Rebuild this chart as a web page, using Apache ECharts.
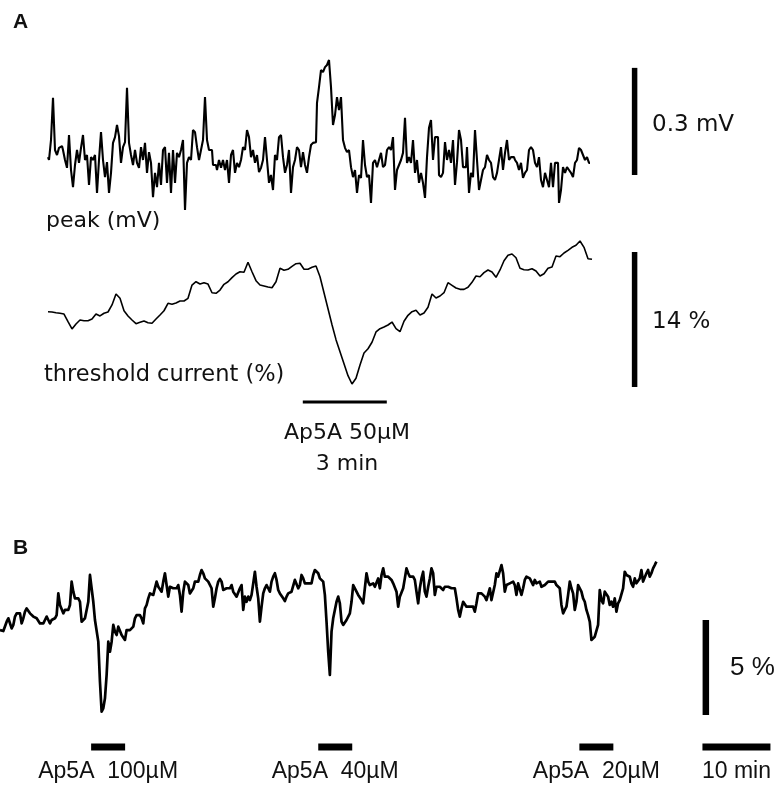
<!DOCTYPE html>
<html>
<head>
<meta charset="utf-8">
<script src="https://cdn.jsdelivr.net/npm/echarts@6/dist/echarts.min.js"></script>
<style>
html, body { margin: 0; padding: 0; background: #fff; }
#chart { width: 783px; height: 787px; }
</style>
</head>
<body>
<div id="chart"></div>
<script>
// A: peak (mV), one sample every 1/14 min
let peak_mv = [
    0.050,0.042,0.098,0.216,0.070,0.056,0.076,0.081,0.070,0.042,
    0.020,0.112,0.014,-0.034,0.028,0.070,0.034,0.076,0.112,0.042,
    0.056,-0.028,0.050,0.042,0.056,-0.050,0.042,0.120,0.042,-0.006,
    0.036,-0.050,0.006,0.090,0.106,0.140,0.109,0.034,0.078,0.092,
    0.244,0.090,0.056,0.028,0.070,0.034,0.020,0.078,0.042,0.090,
    0.006,0.064,0.034,-0.062,0.006,-0.034,0.034,-0.028,0.070,0.078,
    -0.022,0.062,-0.050,0.070,-0.022,0.062,0.050,0.070,0.098,-0.098,
    0.034,0.050,0.042,0.126,0.120,0.078,0.042,0.070,0.098,0.218,
    0.098,0.070,0.070,0.028,0.028,0.014,0.042,0.020,0.042,0.014,
    0.042,-0.022,0.056,0.070,0.006,0.034,0.022,0.042,0.078,0.070,
    0.126,0.106,0.050,0.070,0.034,0.056,0.008,0.020,0.042,0.106,
    0.042,-0.022,0,-0.042,0.056,0.042,0.106,0.112,0.050,0.006,
    0.028,0.070,-0.050,0.022,0.042,0.078,0.070,0.022,0.064,0.028,
    0.006,0.050,0.084,0.090,0.092,0.202,0.246,0.294,0.288,0.302,
    0.308,0.322,0.246,0.140,0.168,0.218,0.182,0.218,0.098,0.076,
    0.064,0.070,0.022,-0.006,0.014,-0.050,0,-0.008,0.098,0.028,
    -0.006,0,-0.078,0.034,0.042,0.022,0.042,0.062,0.022,0.028,
    0.070,0.078,0.070,0.106,-0.042,0.014,0.028,
    0.042,0.062,0.160,0.034,0.050,0.034,0.098,0.006,0.042,-0.022,
    0.006,-0.022,-0.064,0.050,0.132,0.154,0.042,0.106,0.106,0,
    -0.006,0.006,0.092,0.042,0.070,0.034,0.098,-0.028,0.036,0.126,
    0.098,0.022,0.022,0.078,-0.050,0.006,-0.006,0.126,0.042,-0.042,
    -0.014,0.014,0.022,0.056,0.042,0.034,-0.006,-0.014,0.006,0.042,
    0.078,0.014,0.062,0.098,0.042,0.050,0.050,0.042,0.034,0.014,
    0.034,-0.008,0.006,0.014,0.070,0.078,0.070,0.034,0.022,0.050,
    -0.014,-0.034,0.006,-0.014,-0.034,0.034,-0.034,0.034,0.034,-0.078,
    -0.042,0.022,0.006,0.022,0.014,0.006,-0.006,0.034,0.042,0.076,
    0.070,0.056,0.042,0.050,0.034
];
let peak_dt = 1 / 14;

// A: threshold current (%), one sample every 1/7 min
let threshold_pct = [
    7.81,7.78,7.71,7.65,7.57,6.77,6.02,6.54,6.95,6.88,
    6.88,7.05,7.57,7.37,7.65,7.78,8.51,9.65,9.20,7.91,
    7.37,6.95,6.57,6.71,6.85,6.67,6.61,7.05,7.47,7.91,
    8.68,8.58,8.71,8.92,8.92,9.20,10.58,10.92,10.68,10.82,
    10.68,9.78,9.72,10.06,10.65,10.92,11.34,11.72,11.96,11.90,
    12.94,11.96,11.03,10.58,10.48,10.37,10.30,10.92,12.31,12.11,
    12.21,12.52,12.79,12.83,12.21,12.21,12.42,12.55,11.44,9.78,
    8.12,6.46,4.91,3.66,2.42,1.17,0.31,0.90,2.28,3.53,
    3.97,4.64,5.71,6.05,6.22,6.43,6.74,6.05,5.74,6.82,
    7.44,7.81,7.96,7.47,7.68,8.27,9.65,9.23,9.44,9.78,
    10.82,10.55,10.27,10.13,10.13,10.34,10.86,11.51,11.44,11.86,
    12.14,11.93,11.38,12.14,13.10,13.66,13.80,13.41,12.31,12.17,
    12.14,12.27,12.03,11.51,11.75,12.31,12.45,13.59,13.52,13.90,
    14.18,14.49,14.70,15.15,14.49,13.31,13.25
];
let threshold_dt = 1 / 7;

// B: threshold current (%), one sample every 0.245 min
let trace_b_pct = [
    4.47,4.39,4.42,4.47,4.91,5.09,5.18,4.56,4.74,5.18,
    5.35,5.30,5.35,4.82,5.09,5.44,5.61,5.53,5.35,5.26,
    5.18,5.18,5.09,5.00,4.82,4.82,4.82,5.00,5.18,5.00,
    4.82,5.00,5.00,5.09,5.26,6.40,5.79,5.70,5.35,5.53,
    5.44,5.53,5.79,7.02,6.49,6.14,6.14,6.14,5.96,4.91,
    5.00,5.09,5.18,5.96,7.37,7.37,5.96,5.00,4.91,3.86,
    1.75,0.18,0.35,0.88,2.11,3.86,3.33,3.86,4.74,4.39,
    4.21,4.65,4.74,4.21,4.30,3.95,4.47,4.56,4.47,4.56,
    4.65,5.09,5.26,5.35,5.26,5.09,4.82,5.61,5.79,6.14,
    6.40,6.49,6.32,6.40,7.02,6.75,6.84,6.49,7.02,7.46,
    6.84,6.23,6.75,6.84,6.67,6.75,6.67,6.84,6.32,5.44,
    6.49,7.02,6.93,6.84,6.40,6.40,6.67,7.02,7.11,7.02,
    7.37,7.63,7.46,7.19,7.19,7.02,7.11,6.67,5.70,6.14,
    6.67,7.02,7.16,7.02,6.58,6.58,6.67,6.58,6.67,
    6.84,6.49,6.49,6.23,6.23,6.67,6.84,5.53,6.23,5.96,
    6.23,6.05,6.32,6.93,7.54,6.75,6.14,4.91,5.70,6.40,
    6.67,6.84,6.67,6.49,7.02,7.28,7.46,7.11,6.58,6.40,
    6.32,6.14,6.00,6.23,6.40,6.40,6.49,6.49,7.11,7.02,
    6.67,6.84,7.37,7.19,6.93,6.93,6.93,6.93,6.93,7.37,
    7.63,7.63,7.46,7.19,7.11,7.02,6.32,4.91,3.33,2.11,
    4.39,5.09,5.53,5.96,6.23,5.88,4.91,4.74,4.82,5.00,
    5.09,5.35,5.96,6.84,6.67,6.58,6.32,6.23,6.05,5.88,
    6.67,7.46,7.02,6.84,6.93,6.93,6.75,6.84,7.19,6.67,
    7.37,7.72,7.28,7.19,7.28,7.19,7.11,6.93,6.84,6.49,
    5.70,6.23,6.32,6.67,7.19,7.72,7.46,7.28,7.19,7.28,
    7.11,6.49,5.88,6.67,7.19,7.54,6.49,6.23,6.75,7.19,
    7.72,7.46,6.32,6.75,6.67,6.75,6.67,6.58,6.75,6.67,
    6.75,
    6.75,6.67,6.75,6.67,6.14,5.53,5.18,5.61,5.96,5.88,
    5.70,5.70,5.70,5.70,5.70,5.44,5.88,6.40,6.32,6.40,
    6.40,6.23,6.05,6.14,6.67,6.05,6.14,6.84,7.46,7.28,
    7.37,7.89,7.46,6.49,6.84,6.84,6.93,7.02,7.02,6.84,
    6.32,6.93,7.02,6.32,6.67,7.11,7.28,7.28,7.19,7.11,
    6.84,7.11,6.93,7.02,7.02,6.75,6.84,6.84,6.93,7.02,
    7.02,7.02,6.93,7.02,6.84,6.93,6.67,5.79,5.35,5.53,
    5.70,6.32,7.02,6.67,6.40,5.53,5.96,6.84,6.75,6.49,
    6.14,5.96,5.53,5.26,4.91,3.95,3.95,4.12,4.21,4.74,
    6.58,6.05,5.88,6.49,6.58,6.23,5.79,5.96,5.70,6.14,
    5.44,5.88,6.05,6.14,6.67,7.54,7.37,7.37,7.28,6.93,
    6.75,7.19,6.93,6.93,7.19,7.63,7.02,6.93,7.46,7.63,
    7.28,7.46,7.72,7.89,8.07
];
let trace_b_dt = 0.245;

// drug applications (min) and labels
let stim_a_min = [9.1, 12.1];
let stim_a_text = ['Ap5A 50\u00b5M', '3 min'];
let stim_b_min = [[13.4, 18.4], [46.8, 51.8], [85.2, 90.2]];
let stim_b_text = ['Ap5A  100\u00b5M', 'Ap5A  40\u00b5M', 'Ap5A  20\u00b5M'];

// scale bars
let scale_a_values = [0.3, 14];      // mV, %
let scale_a_text = ['0.3 mV', '14 %'];
let scale_b_values = [5, 10];        // %, min
let scale_b_text = ['5 %', '10 min'];

// ---- layout (px) ----
let a_px_per_min = 28, b_px_per_min = 6.8;
let peak_px_per_mv = 357.1, thr_px_per_pct = 9.64, b_px_per_pct = 19;
let peak_zero_y = 175, thr_zero_y = 387, b_zero_y = 715;
let scale_a_t = 20.95, scale_b_t = 103.8;
let stim_a_level = -1.56, stim_b_level = -1.68;

let chart = echarts.init(document.getElementById('chart'), null, { renderer: 'canvas' });

function to_pairs(arr, dt) {
    return arr.map(function (v, i) { return [i * dt, v]; });
}

function bar_series(grid_index, data, width) {
    return {
        type: 'line',
        xAxisIndex: grid_index,
        yAxisIndex: grid_index,
        data: data,
        symbol: 'none',
        silent: true,
        clip: false,
        lineStyle: { color: '#000', width: width, cap: 'butt' },
        z: 3
    };
}

function label(text, x, y, size, align, weight, family) {
    return {
        type: 'text',
        x: x,
        y: y,
        silent: true,
        style: {
            text: text,
            fill: '#111',
            font: (weight || 'normal') + ' ' + size + 'px ' + (family || '"DejaVu Sans"'),
            align: align,
            textAlign: align,
            verticalAlign: 'middle',
            textVerticalAlign: 'middle'
        }
    };
}

let series_list = [
    {
        type: 'line', xAxisIndex: 0, yAxisIndex: 0,
        data: to_pairs(peak_mv, peak_dt),
        step: 'middle', symbol: 'none', silent: true,
        lineStyle: { color: '#000', width: 2.1 }
    },
    {
        type: 'line', xAxisIndex: 1, yAxisIndex: 1,
        data: to_pairs(threshold_pct, threshold_dt),
        symbol: 'none', silent: true,
        lineStyle: { color: '#000', width: 1.6 }
    },
    {
        type: 'line', xAxisIndex: 2, yAxisIndex: 2,
        data: to_pairs(trace_b_pct, trace_b_dt),
        symbol: 'none', silent: true,
        lineStyle: { color: '#000', width: 2.7, join: 'round' }
    },
    bar_series(0, [[scale_a_t, 0], [scale_a_t, scale_a_values[0]]], 5.5),
    bar_series(1, [[scale_a_t, 0], [scale_a_t, scale_a_values[1]]], 5.5),
    bar_series(1, [[stim_a_min[0], stim_a_level], [stim_a_min[1], stim_a_level]], 3),
    bar_series(2, [[scale_b_t, 0], [scale_b_t, scale_b_values[0]]], 6.5),
    bar_series(2, [[scale_b_t - 0.5, stim_b_level], [scale_b_t - 0.5 + scale_b_values[1], stim_b_level]], 7)
];
stim_b_min.forEach(function (s) {
    series_list.push(bar_series(2, [[s[0], stim_b_level], [s[1], stim_b_level]], 7));
});

let graphic_list = [
    label('A', 13, 22, 21, 'left', 'bold', '"Liberation Sans", Arial'),
    label('B', 13, 548, 21, 'left', 'bold', '"Liberation Sans", Arial'),
    label('peak (mV)', 46, 221, 22, 'left'),
    label('threshold current (%)', 44, 375, 22.5, 'left'),
    label(scale_a_text[0], 652, 125, 23, 'left'),
    label(scale_a_text[1], 652, 322, 23, 'left'),
    label(stim_a_text[0], 347, 433, 22, 'center'),
    label(stim_a_text[1], 347, 464, 22, 'center'),
    label(scale_b_text[0], 730, 668, 26, 'left', 'normal', '"Liberation Sans", Arial'),
    label(scale_b_text[1], (scale_b_t - 0.5 + scale_b_values[1] / 2) * b_px_per_min, 772, 23, 'center', 'normal', '"Liberation Sans", Arial')
];
stim_b_min.forEach(function (s, i) {
    graphic_list.push(label(stim_b_text[i], (s[0] + s[1]) / 2 * b_px_per_min, 772, 23, 'center', 'normal', '"Liberation Sans", Arial'));
});

let option = {
    animation: false,
    backgroundColor: '#fff',
    grid: [
        { left: 48, top: peak_zero_y - 0.45 * peak_px_per_mv, width: 22 * a_px_per_min, height: 0.6 * peak_px_per_mv },
        { left: 48, top: thr_zero_y - 17 * thr_px_per_pct, width: 22 * a_px_per_min, height: 20 * thr_px_per_pct },
        { left: 0, top: b_zero_y - 9 * b_px_per_pct, width: 115 * b_px_per_min, height: 12 * b_px_per_pct }
    ],
    xAxis: [
        { type: 'value', gridIndex: 0, min: 0, max: 22, show: false },
        { type: 'value', gridIndex: 1, min: 0, max: 22, show: false },
        { type: 'value', gridIndex: 2, min: 0, max: 115, show: false }
    ],
    yAxis: [
        { type: 'value', gridIndex: 0, min: -0.15, max: 0.45, show: false },
        { type: 'value', gridIndex: 1, min: -3, max: 17, show: false },
        { type: 'value', gridIndex: 2, min: -3, max: 9, show: false }
    ],
    series: series_list,
    graphic: graphic_list
};

chart.setOption(option);
</script>
</body>
</html>
